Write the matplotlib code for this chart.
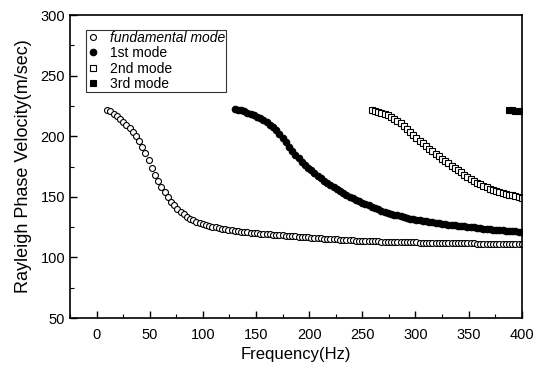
import numpy as np
import matplotlib
matplotlib.use('Agg')
import matplotlib.pyplot as plt
from matplotlib.ticker import MultipleLocator

plt.rcParams['font.family'] = ['Liberation Sans', 'DejaVu Sans']

v_fund = [222, 220.5, 218.5, 216.5, 214.5, 212, 209.5, 207, 203.5, 200,
          196, 191, 186, 180, 174, 168, 163, 158.5, 154, 150,
          146, 143, 140, 137.5, 135.5, 133.5, 132, 130.5, 129.5, 128.5,
          127.5, 126.8, 126, 125.3, 124.7, 124.2, 123.7, 123.2, 122.8, 122.4,
          122, 121.6, 121.3, 121, 120.7, 120.4, 120.2, 120, 119.7, 119.5,
          119.3, 119, 118.8, 118.6, 118.4, 118.2, 118, 117.8, 117.6, 117.4,
          117.2, 117, 116.8, 116.6, 116.4, 116.2, 116, 115.8, 115.6, 115.4,
          115.2, 115, 114.8, 114.6, 114.4, 114.2, 114.1, 114, 113.9, 113.8,
          113.7, 113.6, 113.5, 113.4, 113.3, 113.2, 113.1, 113, 112.9, 112.8,
          112.7, 112.7, 112.6, 112.6, 112.5, 112.5, 112.4, 112.4, 112.3, 112.3,
          112.2, 112.2, 112.1, 112.1, 112, 112, 111.9, 111.9, 111.8, 111.8,
          111.7, 111.7, 111.6, 111.6, 111.5, 111.5, 111.4, 111.4, 111.3, 111.3,
          111.3, 111.2, 111.2, 111.2, 111.1, 111.1, 111.1, 111, 111, 111,
          111]
v_1st = [222.5, 222, 221.3, 220.5, 219.5, 218.5, 217.5, 216.2, 214.8, 213.2,
         211.5, 209.5, 207.3, 205, 202, 198.5, 195, 191.5, 188, 184.8,
         182, 179, 176.3, 174, 171.8, 169.6, 167.5, 165.4, 163.4, 161.5,
         159.5, 157.8, 156.1, 154.5, 153, 151.6, 150.2, 148.9, 147.7, 146.5,
         145.3, 144.1, 142.9, 141.8, 140.7, 139.7, 138.7, 137.8, 136.9, 136.1,
         135.3, 134.6, 133.9, 133.2, 132.6, 132, 131.5, 131, 130.5, 130.1,
         129.7, 129.3, 128.9, 128.5, 128.1, 127.7, 127.4, 127.1, 126.8, 126.5,
         126.2, 125.9, 125.6, 125.3, 125, 124.7, 124.4, 124.1, 123.8, 123.5,
         123.2, 123, 122.8, 122.5, 122.3, 122.1, 121.9, 121.7, 121.5, 121.3,
         121.1]
v_2nd = [221.5, 221, 220.3, 219.5, 218.5, 217.2, 215.8, 214.2, 212.5, 210.6,
         208.5, 206.2, 203.8, 201.3, 198.8, 196.4, 194.2, 192, 189.8, 187.6,
         185.5, 183.5, 181.5, 179.5, 177.5, 175.6, 173.7, 171.9, 170.1, 168.3,
         166.5, 164.8, 163.2, 161.7, 160.3, 159, 157.8, 156.7, 155.7, 154.8,
         154, 153.2, 152.5, 151.8, 151.1, 150.4, 149.8, 149.2]
v_3rd = [221.5, 221.3, 221.1, 220.8, 220.5]

f_fund = np.arange(10, 401, 3)
f_1st = np.arange(130, 401, 3)
f_2nd = np.arange(259, 401, 3)
f_3rd = np.arange(388, 401, 3)

fig = plt.figure(figsize=(5.44, 3.67), dpi=100)
ax = fig.add_axes([0.1287, 0.1335, 0.8303, 0.8255])

ms = 4.3
ax.plot(f_fund, v_fund, 'o', mfc='white', mec='black', mew=0.8, ms=ms, label='fundamental mode')
ax.plot(f_1st, v_1st, 'o', mfc='black', mec='black', mew=0.8, ms=ms + 0.4, label='1st mode')
ax.plot(f_2nd, v_2nd, 's', mfc='white', mec='black', mew=0.8, ms=ms - 0.5, label='2nd mode')
ax.plot(f_3rd, v_3rd, 's', mfc='black', mec='black', mew=0.8, ms=ms - 0.5, label='3rd mode')

ax.set_xlim(-25, 400)
ax.set_ylim(50, 300)
ax.xaxis.set_major_locator(MultipleLocator(50))
ax.xaxis.set_minor_locator(MultipleLocator(25))
ax.yaxis.set_major_locator(MultipleLocator(50))
ax.yaxis.set_minor_locator(MultipleLocator(25))
ax.tick_params(which='both', direction='in', top=False, right=False, labelsize=10.5)
ax.tick_params(which='major', length=5, width=1)
ax.tick_params(which='minor', length=3, width=0.8)
ax.tick_params(axis='x', pad=7)
for s in ax.spines.values():
    s.set_linewidth(1.2)

ax.set_xlabel('Frequency(Hz)', fontsize=12, labelpad=4)
ax.set_ylabel('Rayleigh Phase Velocity(m/sec)', fontsize=13, labelpad=6)

leg = ax.legend(loc='upper left', bbox_to_anchor=(0.035, 0.95), fontsize=10,
                frameon=True, fancybox=False, edgecolor='black', borderpad=0.05,
                labelspacing=0.1, handletextpad=0.7, handlelength=1.0,
                borderaxespad=0)
leg.get_frame().set_linewidth(0.8)
leg.get_texts()[0].set_style('italic')

fig.savefig('out.png', dpi=100)
